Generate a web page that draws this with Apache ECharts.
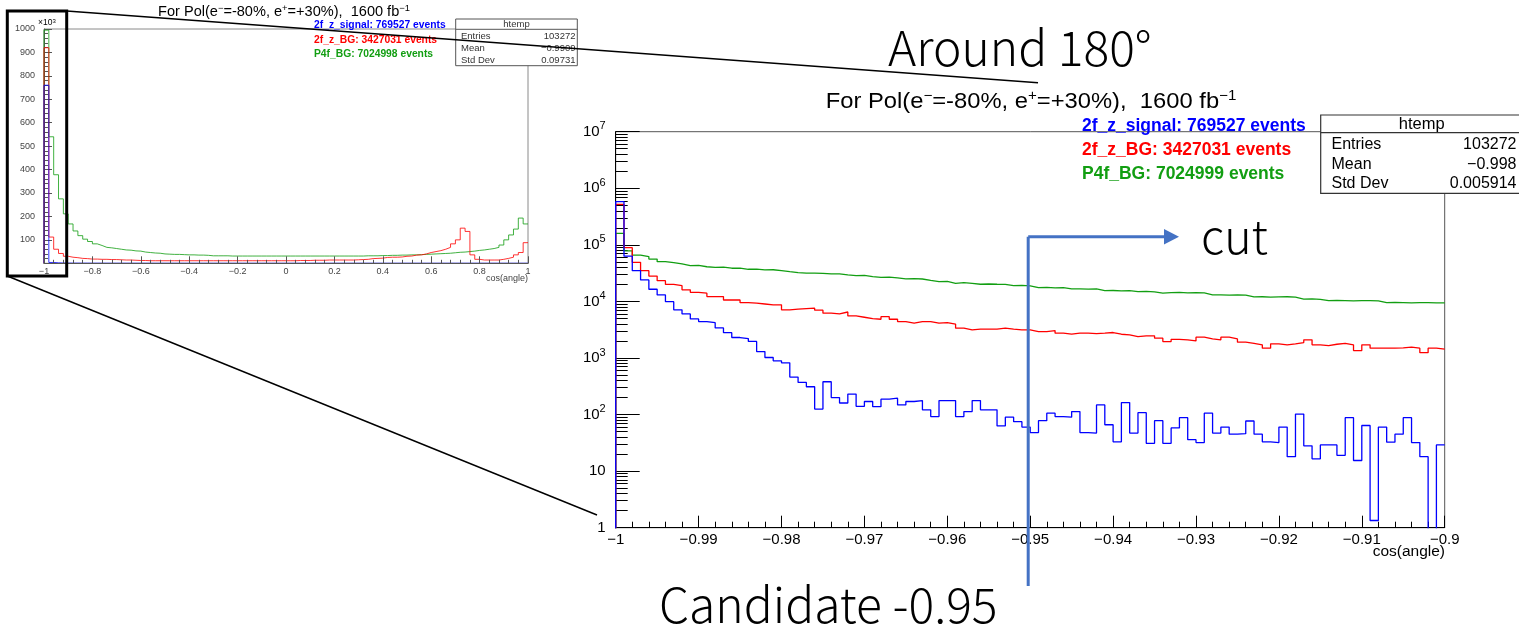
<!DOCTYPE html>
<html>
<head>
<meta charset="utf-8">
<script src="https://cdn.jsdelivr.net/npm/echarts@6/dist/echarts.min.js"></script>
<style>
  html, body { margin: 0; padding: 0; background: #fff; }
  #chart { width: 1519px; height: 630px; }
</style>
</head>
<body>
<div id="chart"></div>
<script>
// overview histogram, cos(angle) from -1 to 1, 0.02 bins, values in 10^3
const overviewStart = -1;
const overviewBinWidth = 0.02;
const overviewSignal = [
  760, 3.6, 1.9, 1.2, 1.0, 0.8, 0.7, 0.6, 0.6, 0.5,
  0.5, 0.5, 0.4, 0.4, 0.4, 0.4, 0.4, 0.3, 0.3, 0.3,
  0.3, 0.3, 0.3, 0.3, 0.3, 0.3, 0.3, 0.3, 0.3, 0.3,
  0.3, 0.3, 0.3, 0.3, 0.3, 0.3, 0.3, 0.3, 0.3, 0.3,
  0.3, 0.3, 0.3, 0.3, 0.3, 0.3, 0.3, 0.3, 0.3, 0.3,
  0.3, 0.3, 0.3, 0.3, 0.3, 0.3, 0.3, 0.3, 0.3, 0.3,
  0.3, 0.3, 0.3, 0.3, 0.3, 0.3, 0.3, 0.3, 0.3, 0.3,
  0.3, 0.3, 0.3, 0.3, 0.3, 0.3, 0.3, 0.3, 0.3, 0.3,
  0.3, 0.3, 0.3, 0.3, 0.3, 0.3, 0.3, 0.3, 0.3, 0.3,
  0.3, 0.3, 0.3, 0.3, 0.3, 0.3, 0.3, 0.3, 0.3, 0.3
];
const overviewZBg = [
  920, 112, 60, 42, 30, 26, 24, 21, 20, 18,
  18, 17, 17, 16, 16, 15, 14, 14, 13, 12,
  12, 11, 11, 11, 11, 11, 11, 11, 11, 11,
  11, 11, 11, 11, 11, 11, 11, 11, 11, 11,
  11, 11, 11, 11, 11, 11, 11, 11, 11, 11,
  11, 11, 12, 12, 12, 13, 13, 13, 14, 14,
  14, 14, 14, 14, 15, 16, 17, 20, 21, 22,
  25, 26, 26, 27, 30, 31, 35, 36, 40, 46,
  50, 54, 60, 68, 83, 100, 150, 136, 36, 17,
  14, 14, 14, 14, 17, 21, 26, 36, 46, 88
];
const overviewP4f = [
  995, 540, 378, 275, 211, 168, 138, 118, 103, 93,
  83, 76, 68, 66, 63, 60, 57, 56, 53, 52,
  48, 46, 44, 43, 40, 39, 38, 38, 37, 36,
  36, 35, 35, 34, 32, 32, 32, 32, 31, 31,
  31, 31, 31, 31, 31, 31, 31, 31, 31, 31,
  31, 31, 31, 31, 31, 31, 31, 31, 31, 31,
  31, 31, 31, 31, 31, 31, 32, 32, 32, 33,
  33, 34, 34, 35, 35, 36, 36, 37, 38, 39,
  40, 41, 42, 43, 45, 47, 48, 50, 52, 55,
  57, 60, 63, 68, 78, 100, 121, 146, 193, 168
];

// zoomed histogram, cos(angle) from -1 to -0.9, 0.001 bins
const zoomStart = -1;
const zoomBinWidth = 0.001;
const zoomSignal = [
  580000, 63000, 35000, 24000, 16400, 13000, 9900, 7100, 6000, 4900,
  4400, 4200, 3400, 2800, 2300, 2200, 1960, 1300, 1020, 890,
  820, 460, 370, 310, 125, 380, 200, 160, 230, 140,
  170, 138, 187, 195, 148, 170, 177, 121, 92, 177,
  177, 92, 113, 177, 121, 121, 63, 90, 75, 60,
  48, 78, 106, 92, 90, 113, 48, 47, 148, 66,
  33, 163, 47, 108, 31, 78, 31, 58, 88, 36,
  32, 106, 47, 60, 45, 46, 77, 45, 33, 32,
  60, 18, 102, 28, 16.5, 29, 29, 19, 88, 15.4,
  64, 1.34, 60, 32.5, 45, 88, 32, 18, 0, 29
];
const zoomZBg = [
  520000, 89000, 49000, 35000, 28000, 23300, 20000, 19000, 16000, 14500,
  14000, 12200, 12200, 10600, 10600, 9500, 9300, 9000, 8700, 8700,
  7100, 7300, 7450, 7600, 7000, 6200, 6000, 6500, 5550, 5250,
  4960, 4840, 5380, 4840, 4400, 4120, 4400, 4400, 4120, 4220,
  3980, 3360, 3140, 3230, 3230, 3230, 3360, 3230, 3140, 3140,
  2930, 2930, 3050, 2740, 2630, 2740, 2740, 2700, 2740, 2820,
  2630, 2560, 2390, 2460, 2460, 2240, 1950, 2140, 2090, 2000,
  2330, 2170, 2090, 2330, 2170, 1900, 1820, 1710, 1490, 1780,
  1710, 1780, 1875, 2090, 1710, 1660, 1750, 1820, 1710, 1350,
  1710, 1490, 1490, 1490, 1510, 1550, 1490, 1240, 1490, 1430
];
const zoomP4f = [
  160000, 78000, 66000, 62000, 56000, 50500, 48500, 46000, 43000, 43500,
  41000, 40000, 40500, 38600, 38800, 37000, 37200, 36000, 36300, 35000,
  33600, 32300, 31500, 31700, 31400, 30600, 30800, 29400, 28600, 28800,
  27400, 26700, 26900, 26000, 25000, 25300, 24900, 23600, 22400, 22600,
  20900, 21400, 20900, 20100, 20300, 20100, 20000, 19000, 19200, 18900,
  17500, 17700, 17400, 17500, 16600, 16700, 16500, 16600, 15500, 15600,
  15400, 15500, 14900, 15000, 14800, 14000, 14300, 14400, 14200, 14300,
  14100, 13000, 13100, 12900, 13000, 12900, 12000, 12100, 11900, 12000,
  12100, 11900, 11000, 11100, 10900, 10300, 10400, 10300, 10200, 10300,
  10300, 10200, 9500, 9600, 9500, 9400, 9500, 9500, 9400, 9400
];

const overviewXTicks = [-1, 1, 0.2];
const overviewYTicks = [0, 1000, 100];
const zoomXTicks = [-1, -0.9, 0.01];
const zoomYDecades = [1, 10, 100, 1000, 10000, 100000, 1000000, 10000000];
const cutValue = -0.95;

const seriesNames = ["2f_z_signal", "2f_z_BG", "P4f_BG"];
const overviewEvents = ["769527", "3427031", "7024998"];
const zoomEvents = ["769527", "3427031", "7024999"];
const colors = ["#0000ff", "#ff0000", "#129e12"];

const rootFont = "Liberation Sans, Arial, sans-serif";
const noteFont = "Noto Sans CJK JP, Noto Sans, sans-serif";

// minor ticks of the log axis at 2..9 x 10^n
const zoomYMinor = [];
zoomYDecades.slice(0, -1).forEach((d) => {
  for (let m = 2; m <= 9; m++) zoomYMinor.push(m * d);
});

function histPoints(start, width, values, floorValue) {
  const pts = [[start, floorValue]];
  values.forEach((v, i) => {
    pts.push([+(start + i * width).toFixed(4), v > 0 ? v : floorValue]);
  });
  pts.push([+(start + values.length * width).toFixed(4), values[values.length - 1]]);
  return pts;
}

function rootNumber(v) {
  const r = +v.toFixed(3);
  if (r === 0) return "0";
  return (r < 0 ? "\u2212" : "") + String(Math.abs(r));
}

const chart = echarts.init(document.getElementById("chart"));

const overviewSets = [overviewP4f, overviewZBg, overviewSignal];
const zoomSets = [zoomP4f, zoomZBg, zoomSignal];
const drawOrder = [2, 1, 0];

const series = [];
drawOrder.forEach((c, k) => {
  series.push({
    type: "line",
    name: seriesNames[c] + " overview",
    xAxisIndex: 0,
    yAxisIndex: 0,
    step: "end",
    showSymbol: false,
    clip: true,
    silent: true,
    data: histPoints(overviewStart, overviewBinWidth, overviewSets[k], 0),
    lineStyle: { color: colors[c], width: 1, opacity: 0.8 },
    z: 3 + k,
  });
  series.push({
    type: "line",
    name: seriesNames[c],
    xAxisIndex: 1,
    yAxisIndex: 1,
    step: "end",
    showSymbol: false,
    clip: true,
    silent: true,
    data: histPoints(zoomStart, zoomBinWidth, zoomSets[k], 0.3),
    lineStyle: { color: colors[c], width: 1.3 },
    z: 3 + k,
  });
});

chart.setOption({
  animation: false,
  backgroundColor: "#ffffff",
  grid: [
    { left: 44, top: 29, width: 484, height: 234.3, show: true, borderColor: "#8a8a8a", borderWidth: 1 },
    { left: 615.7, top: 131.7, width: 829, height: 396, show: true, borderColor: "#555", borderWidth: 1 },
  ],
  xAxis: [
    {
      gridIndex: 0,
      type: "value",
      z: 10,
      min: overviewXTicks[0],
      max: overviewXTicks[1],
      interval: overviewXTicks[2],
      axisLine: { onZero: false, lineStyle: { color: "#555", width: 1.2 } },
      axisTick: { inside: true, length: 7, lineStyle: { color: "#555" } },
      minorTick: { show: true, splitNumber: 5, length: 3.5, lineStyle: { color: "#555" } },
      splitLine: { show: false },
      axisLabel: { fontFamily: rootFont, fontSize: 9, color: "#444", margin: 4, formatter: rootNumber },
    },
    {
      gridIndex: 1,
      type: "value",
      min: zoomXTicks[0],
      max: zoomXTicks[1],
      interval: zoomXTicks[2],
      axisLine: { onZero: false, lineStyle: { color: "#000", width: 1 } },
      axisTick: { inside: true, length: 12, lineStyle: { color: "#000" } },
      minorTick: { show: true, splitNumber: 5, length: 6, lineStyle: { color: "#000" } },
      splitLine: { show: false },
      axisLabel: { fontFamily: rootFont, fontSize: 15, color: "#000", margin: 5, formatter: rootNumber },
    },
  ],
  yAxis: [
    {
      gridIndex: 0,
      type: "value",
      min: overviewYTicks[0],
      max: overviewYTicks[1],
      interval: overviewYTicks[2],
      axisLine: { show: true, onZero: false, lineStyle: { color: "#555", width: 1 } },
      axisTick: { inside: true, length: 8, lineStyle: { color: "#555" } },
      minorTick: { show: true, splitNumber: 5, length: 4, lineStyle: { color: "#555" } },
      splitLine: { show: false },
      axisLabel: {
        fontFamily: rootFont, fontSize: 9, color: "#444", margin: 9,
        formatter: (v) => (v === 0 ? "" : String(v)),
      },
    },
    {
      gridIndex: 1,
      type: "log",
      logBase: 10,
      min: 1,
      max: 1e7,
      position: "left",
      axisLine: { show: true, onZero: false, lineStyle: { color: "#000", width: 1 } },
      axisTick: { inside: true, length: 24, customValues: zoomYDecades, lineStyle: { color: "#000" } },
      splitLine: { show: false },
      axisLabel: {
        customValues: zoomYDecades,
        margin: 10,
        fontFamily: rootFont,
        fontSize: 15,
        color: "#000",
        formatter: (v) => {
          const e = Math.round(Math.log10(v));
          if (e === 0) return "1";
          if (e === 1) return "10";
          return "{b|10}{s|" + e + "}";
        },
        rich: {
          b: { fontFamily: rootFont, fontSize: 15, color: "#000", lineHeight: 22 },
          s: { fontFamily: rootFont, fontSize: 11, color: "#000", lineHeight: 11, verticalAlign: "top" },
        },
      },
    },
    {
      gridIndex: 1,
      type: "log",
      logBase: 10,
      min: 1,
      max: 1e7,
      position: "left",
      axisLine: { show: false },
      axisLabel: { show: false },
      splitLine: { show: false },
      axisTick: { show: true, inside: true, length: 12, customValues: zoomYMinor, lineStyle: { color: "#000" } },
    },
  ],
  series: series,
});

const cutX = chart.convertToPixel({ xAxisIndex: 1 }, cutValue);

function txt(x, y, text, size, opts) {
  return Object.assign({
    type: "text",
    x: x,
    y: y,
    z: 100,
    silent: true,
    style: Object.assign({
      text: text,
      fontFamily: rootFont,
      fontSize: size,
      fill: "#000",
      align: "left",
      verticalAlign: "middle",
    }, (opts && opts.style) || {}),
  }, (opts && opts.el) || {});
}

function line(x1, y1, x2, y2, stroke, width) {
  return {
    type: "line", z: 100, silent: true,
    shape: { x1: x1, y1: y1, x2: x2, y2: y2 },
    style: { stroke: stroke, lineWidth: width },
  };
}

function titleRich(size, sup) {
  return {
    t: { fontFamily: rootFont, fontSize: size, fill: "#000", lineHeight: size * 1.2 },
    s: { fontFamily: rootFont, fontSize: sup, fill: "#000", lineHeight: sup, verticalAlign: "top" },
  };
}
const titleText = "{t|For Pol(e}{s|\u2212}{t|=-80%, e}{s|+}{t|=+30%),  1600 fb}{s|\u22121}";

const graphics = [];

// left overview decorations
graphics.push(txt(284, 12, titleText, 14, {
  style: { align: "center", rich: titleRich(14, 9) },
  el: { scaleX: 1.04, originX: 0, originY: 0 },
}));
graphics.push(txt(38, 23, "{t|\u00d710}{s|3}", 8, { style: { rich: titleRich(8.5, 6), fill: "#444" } }));
graphics.push(txt(528, 279, "cos(angle)", 9, { style: { align: "right", fill: "#444" } }));
seriesNames.forEach((n, i) => {
  graphics.push(txt(314, 25.3 + i * 14.5, n + ": " + overviewEvents[i] + " events", 10.3,
    { style: { fill: colors[i], fontWeight: "bold" } }));
});
graphics.push({
  type: "rect", z: 99, silent: true,
  shape: { x: 455.7, y: 19, width: 121.6, height: 46.7 },
  style: { fill: "#fff", stroke: "#555", lineWidth: 1 },
});
graphics.push(line(455.7, 29.3, 577.3, 29.3, "#555", 1));
graphics.push(txt(516.5, 24.3, "htemp", 9.5, { style: { align: "center", fill: "#333" } }));
[["Entries", "103272"], ["Mean", "\u22120.9909"], ["Std Dev", "0.09731"]].forEach((r, i) => {
  graphics.push(txt(461, 36.7 + i * 11.7, r[0], 9.5, { style: { fill: "#333" } }));
  graphics.push(txt(575.5, 36.7 + i * 11.7, r[1], 9.5, { style: { align: "right", fill: "#333" } }));
});

// right zoom decorations
graphics.push(txt(1031, 102, titleText, 22, {
  style: { align: "center", rich: titleRich(22, 14) },
  el: { scaleX: 1.08, originX: 0, originY: 0 },
}));
graphics.push(txt(1445, 552, "cos(angle)", 15.5, { style: { align: "right" } }));
seriesNames.forEach((n, i) => {
  graphics.push(txt(1082, 126 + i * 24, n + ": " + zoomEvents[i] + " events", 17.5,
    { style: { fill: colors[i], fontWeight: "bold" } }));
});
graphics.push({
  type: "rect", z: 99, silent: true,
  shape: { x: 1320.7, y: 115, width: 220, height: 78.3 },
  style: { fill: "#fff", stroke: "#333", lineWidth: 1.2 },
});
graphics.push(line(1320.7, 132.7, 1519, 132.7, "#333", 1.2));
graphics.push(txt(1421.7, 124, "htemp", 16.5, { style: { align: "center" } }));
[["Entries", "103272"], ["Mean", "\u22120.998"], ["Std Dev", "0.005914"]].forEach((r, i) => {
  graphics.push(txt(1331.5, 145 + i * 19.3, r[0], 16));
  graphics.push(txt(1516.5, 145 + i * 19.3, r[1], 16, { style: { align: "right" } }));
});

// zoom box and connector lines
graphics.push({
  type: "rect", z: 100, silent: true,
  shape: { x: 7.3, y: 11, width: 59.4, height: 265 },
  style: { fill: "none", stroke: "#000", lineWidth: 3 },
});
graphics.push(line(66.7, 11, 1038, 82.7, "#000", 1.4));
graphics.push(line(7.3, 276, 597, 515, "#000", 1.4));

// cut annotation
const cutColor = "#4472c4";
graphics.push(line(cutX - 2, 236.7, cutX - 2, 586, cutColor, 3));
graphics.push(line(cutX - 2, 236.7, 1166, 236.7, cutColor, 3));
graphics.push({
  type: "polygon", z: 100, silent: true,
  shape: { points: [[1164, 229], [1179, 236.7], [1164, 244.4]] },
  style: { fill: cutColor },
});
graphics.push(txt(888, 47.5, "Around 180\u00b0", 48, { style: { fontFamily: noteFont, fontWeight: 300 } }));
graphics.push(txt(1201, 236, "cut", 46.5, { style: { fontFamily: noteFont, fontWeight: 300 } }));
graphics.push(txt(659, 605, "Candidate -0.95", 48, { style: { fontFamily: noteFont, fontWeight: 300 } }));

chart.setOption({ graphic: graphics });
</script>
</body>
</html>
